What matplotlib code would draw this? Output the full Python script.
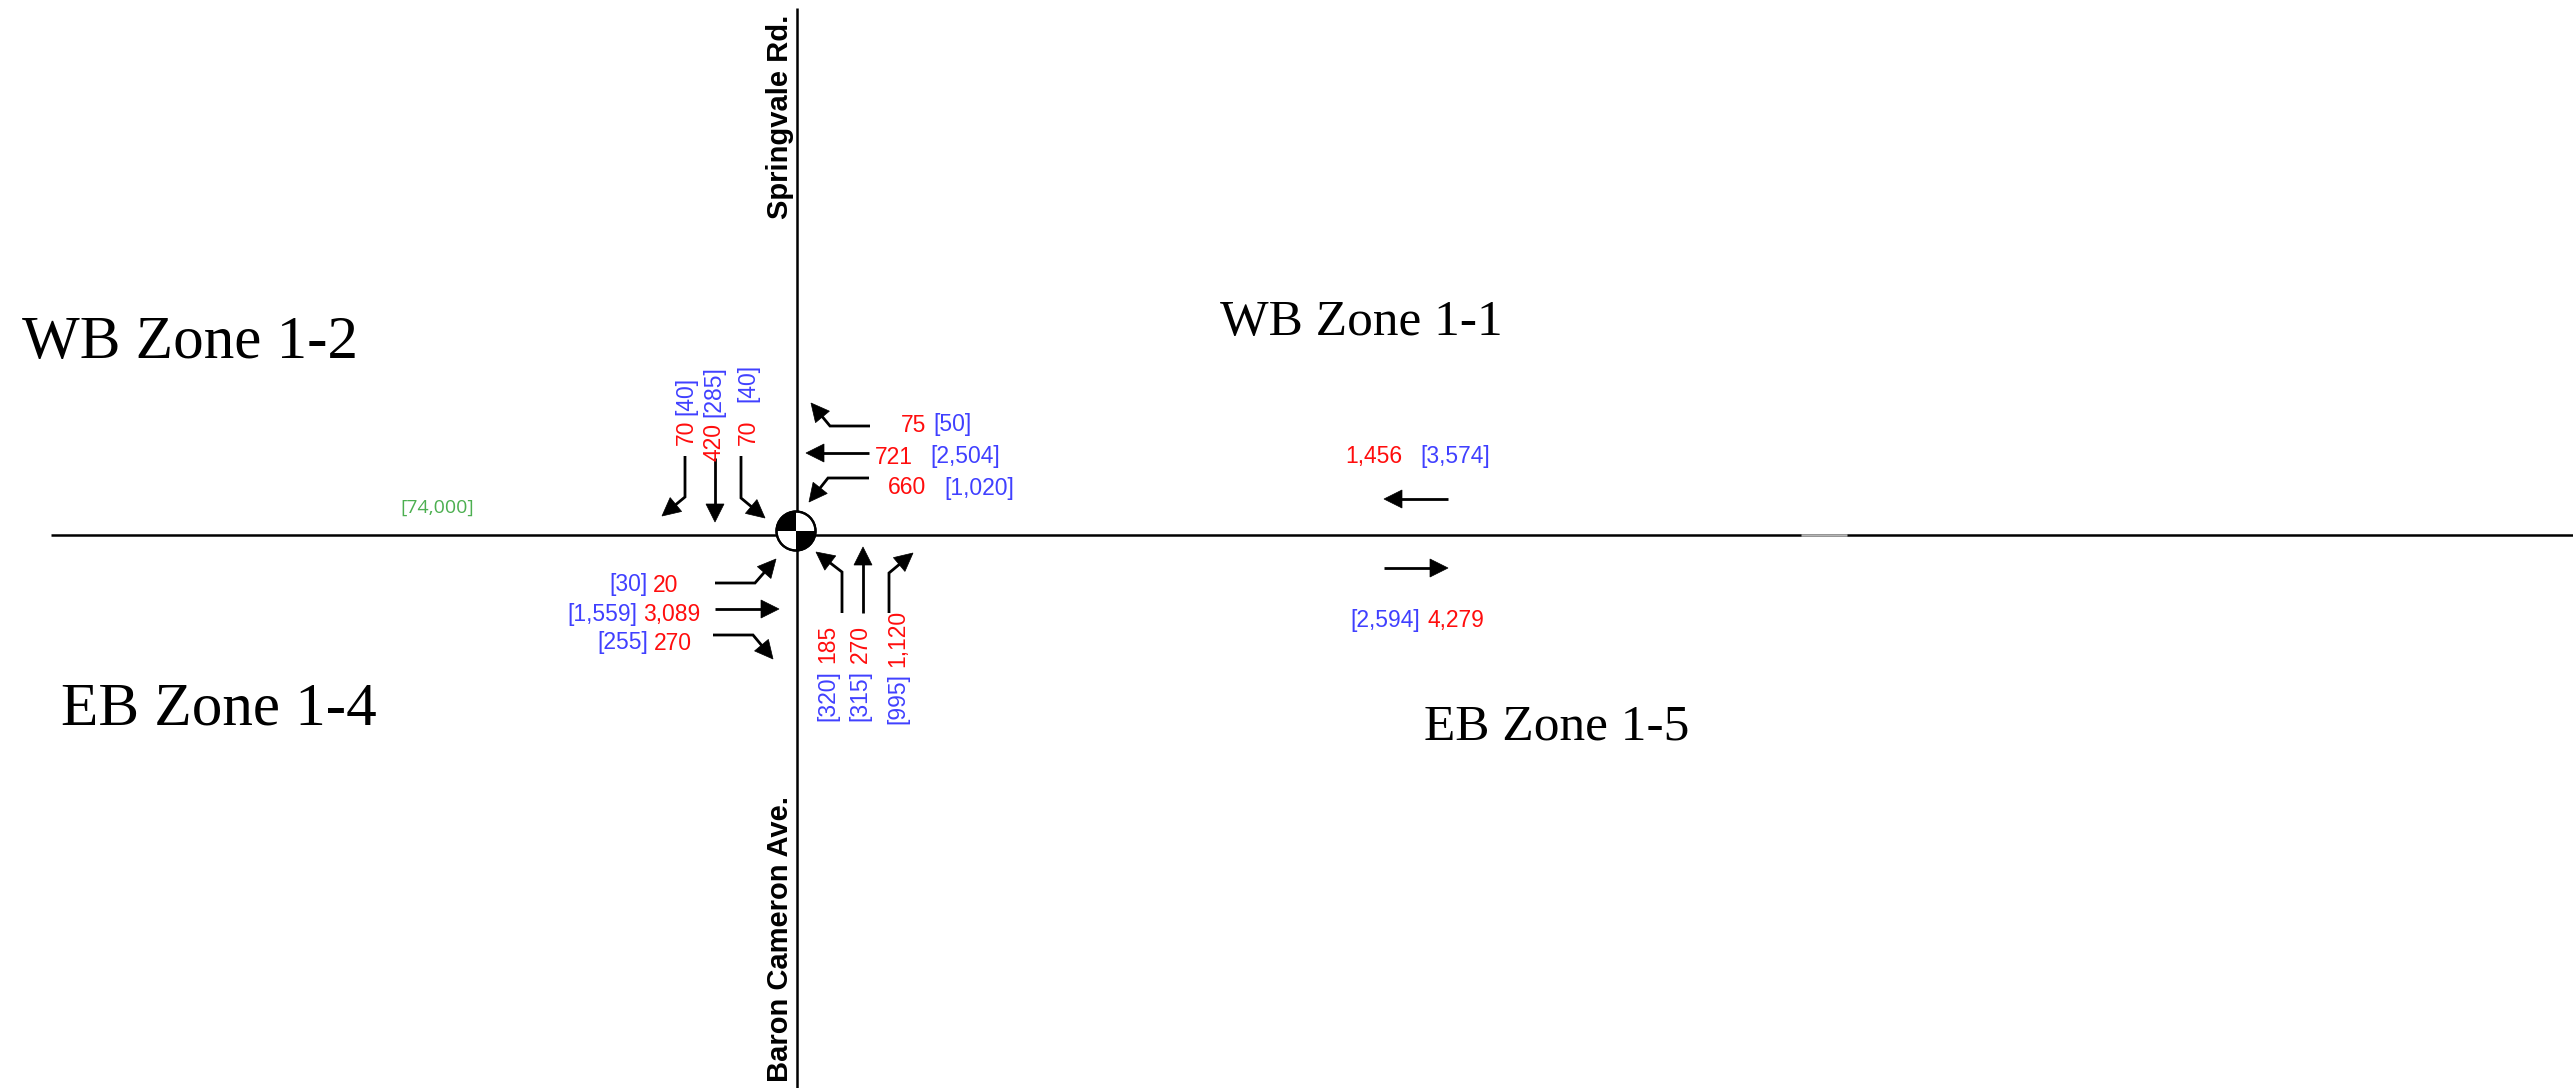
import matplotlib
matplotlib.use("Agg")
import matplotlib.pyplot as plt
import matplotlib.font_manager as fm
from matplotlib.patches import Polygon, Circle, Wedge
import numpy as np

# ---------------- data ----------------
zone_labels = ["WB Zone 1-2", "WB Zone 1-1", "EB Zone 1-4", "EB Zone 1-5"]
road_labels = ["Springvale Rd.", "Baron Cameron Ave."]

# approach volumes: red = value, blue = bracketed value
wb_red = ["75", "721", "660"]
wb_blue = ["[50]", "[2,504]", "[1,020]"]
sb_red = ["70", "420", "70"]
sb_blue = ["[40]", "[285]", "[40]"]
eb_red = ["20", "3,089", "270"]
eb_blue = ["[30]", "[1,559]", "[255]"]
nb_red = ["185", "270", "1,120"]
nb_blue = ["[320]", "[315]", "[995]"]
mid_wb_red, mid_wb_blue = "1,456", "[3,574]"
mid_eb_red, mid_eb_blue = "4,279", "[2,594]"
aadt_label = "[74,000]"

# ---------------- style / layout ----------------
W, H = 2573, 1088
RED = "#ff0d0d"
BLUE = "#4040ff"
GREEN = "#4caf50"
_names = {f.name for f in fm.fontManager.ttflist}
if "Liberation Sans Narrow" in _names:
    NUMFONT, NUMSIZE = ["Liberation Sans Narrow", "DejaVu Sans"], 17
else:
    NUMFONT, NUMSIZE = ["Liberation Sans", "DejaVu Sans"], 16.5
CX, CY = 797, 535

fig = plt.figure(figsize=(W / 100, H / 100), dpi=100)
ax = fig.add_axes([0, 0, 1, 1])
ax.set_xlim(0, W)
ax.set_ylim(H, 0)
ax.axis("off")

# roads
ax.plot([51, W], [CY, CY], color="black", lw=1.8, solid_capstyle="butt", zorder=1)
ax.plot([1801, 1847], [CY, CY], color="#b4b4b4", lw=1.8, solid_capstyle="butt", zorder=2)
ax.plot([CX, CX], [8, H], color="black", lw=1.8, solid_capstyle="butt", zorder=1)

# signal symbol
ccx, ccy, r = 796, 531, 19.5
ax.add_patch(Circle((ccx, ccy), r, facecolor="white", edgecolor="black", lw=1.6, zorder=5))
ax.add_patch(Wedge((ccx, ccy), r, 180, 270, facecolor="black", edgecolor="none", zorder=6))
ax.add_patch(Wedge((ccx, ccy), r, 0, 90, facecolor="black", edgecolor="none", zorder=6))
ax.add_patch(Circle((ccx, ccy), r, facecolor="none", edgecolor="black", lw=1.6, zorder=7))


def arrow(pts, hl=18, hw=9):
    pts = np.array(pts, dtype=float)
    tip = pts[-1]
    d = tip - pts[-2]
    d /= np.hypot(*d)
    n = np.array([-d[1], d[0]])
    base = tip - d * hl
    line = np.vstack([pts[:-1], base + d * 1])
    ax.plot(line[:, 0], line[:, 1], color="black", lw=2.0, solid_joinstyle="miter",
            solid_capstyle="butt", zorder=3)
    ax.add_patch(Polygon([tip, base + n * hw, base - n * hw], closed=True,
                         facecolor="black", edgecolor="black", lw=0.5, zorder=4))


# WB approach
arrow([(870, 426), (830, 426), (811, 403)])
arrow([(869, 453), (806, 453)])
arrow([(869, 478), (828, 478), (809, 502)])
# SB approach
arrow([(685, 456), (685, 497), (662, 516)])
arrow([(715, 458), (715, 522)])
arrow([(741, 456), (741, 498), (765, 518)])
# EB approach
arrow([(715, 583), (755, 583), (776, 559)])
arrow([(715, 609), (779, 609)])
arrow([(713, 635), (753, 635), (773, 659)])
# NB approach
arrow([(842, 613), (842, 572), (816, 552)])
arrow([(863, 613), (863, 547)])
arrow([(889, 613), (889, 573), (913, 553)])
# mid block
arrow([(1448, 499), (1384, 499)])
arrow([(1384, 568), (1448, 568)])


def txt(x, y, s, color, ha="left", va="center", rot=0, size=None):
    ax.text(x, y, s, color=color, ha=ha, va=va, rotation=rot,
            fontsize=size or NUMSIZE, family=NUMFONT, zorder=8)


# WB labels: red right edge, blue left edge
for (rx, bx, y), rs, bs in zip([(926, 933, 425), (913, 930, 457), (926, 944, 488)], wb_red, wb_blue):
    txt(rx, y, rs, RED, ha="right")
    txt(bx, y, bs, BLUE, ha="left")

# EB labels: blue right edge, red left edge
for (bx, rx, y), rs, bs in zip([(648, 653, 585), (637, 643, 614), (648, 654, 643)], eb_red, eb_blue):
    txt(bx, y, bs, BLUE, ha="right")
    txt(rx, y, rs, RED, ha="left")

# SB labels (rotated): red ends at ry, blue starts at by
for (x, ry, by), rs, bs in zip([(686, 420, 415), (714, 423, 417), (748, 420, 402)], sb_red, sb_blue):
    txt(x, ry, rs, RED, ha="center", va="top", rot=90)
    txt(x, by, bs, BLUE, ha="center", va="bottom", rot=90)

# NB labels (rotated): blue ends at by, red starts at ry
for (x, by, ry), rs, bs in zip([(828, 670, 663), (860, 670, 663), (898, 673, 667)], nb_red, nb_blue):
    txt(x, by, bs, BLUE, ha="center", va="top", rot=90)
    txt(x, ry, rs, RED, ha="center", va="bottom", rot=90)

# mid-block labels
txt(1402, 457, mid_wb_red, RED, ha="right")
txt(1420, 457, mid_wb_blue, BLUE, ha="left")
txt(1420, 620, mid_eb_blue, BLUE, ha="right")
txt(1427, 620, mid_eb_red, RED, ha="left")

# AADT
ax.text(400, 508, aadt_label, color=GREEN, ha="left", va="center", fontsize=14,
        family=["Open Sans", "DejaVu Sans"], zorder=8)

# zone labels
for (x, y, fs), s in zip([(190, 343, 44), (1361, 323, 37), (219, 710, 44), (1557, 727, 37)], zone_labels):
    ax.text(x, y, s, ha="center", va="center", fontsize=fs,
            family=["Liberation Serif", "DejaVu Serif"], color="black")

# road labels
for (x, y), s in zip([(780, 117), (780, 939)], road_labels):
    ax.text(x, y, s, ha="center", va="center", rotation=90, fontsize=21,
            fontweight="bold", family=["Liberation Sans", "DejaVu Sans"], color="black")

fig.savefig("out.png", dpi=100, facecolor="white")
